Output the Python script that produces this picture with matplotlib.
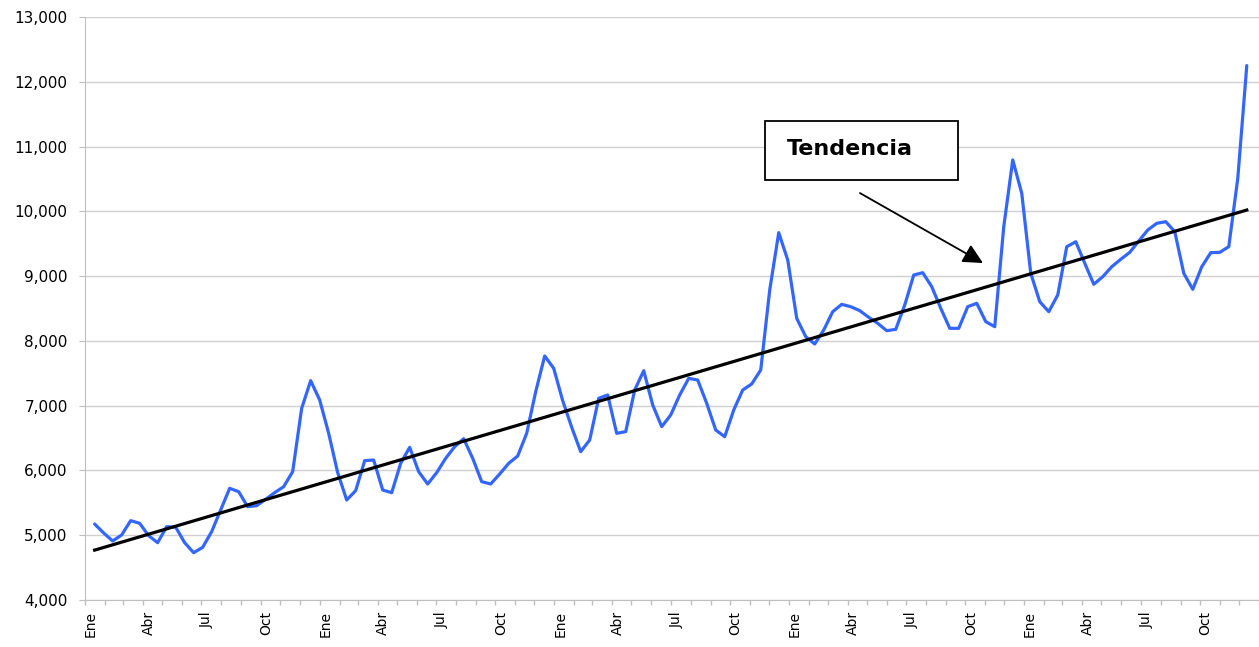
# Serie semanal con linea de tendencia

import numpy as np
import pandas as pd
import matplotlib
matplotlib.use('Agg')
import matplotlib.pyplot as plt
import matplotlib.dates as mdates
from matplotlib.patches import Rectangle
from matplotlib.ticker import FuncFormatter, FixedLocator

# datos (cada 14 dias)
start_date = '2005-01-16'
values = [
    5173, 5035, 4911, 5004, 5225, 5184, 4993, 4885, 5132, 5125,
    4885, 4730, 4813, 5055, 5390, 5724, 5672, 5441, 5456, 5555,
    5657, 5749, 5981, 6959, 7386, 7088, 6573, 5966, 5544, 5688,
    6151, 6161, 5698, 5657, 6110, 6357, 5981, 5791, 5966, 6187,
    6367, 6490, 6187, 5827, 5791, 5945, 6110, 6223, 6573, 7216,
    7767, 7577, 7077, 6666, 6290, 6470, 7114, 7165, 6573, 6599,
    7242, 7540, 7010, 6676, 6856, 7165, 7422, 7396, 7036, 6624,
    6521, 6933, 7242, 7335, 7551, 8786, 9671, 9249, 8348, 8065,
    7952, 8168, 8451, 8564, 8528, 8467, 8364, 8271, 8157, 8178,
    8554, 9017, 9053, 8837, 8503, 8194, 8194, 8528, 8580, 8297,
    8219, 9763, 10793, 10278, 9043, 8605, 8451, 8709, 9454, 9531,
    9198, 8874, 8991, 9145, 9260, 9367, 9542, 9712, 9815, 9840,
    9686, 9043, 8796, 9145, 9362, 9367, 9454, 10510, 12250,
]
trend_ends = [4770, 10020]   # valores de la recta de tendencia al inicio y al final
years = [2005, 2006, 2007, 2008, 2009]
month_labels = ['Ene', 'Abr', 'Jul', 'Oct']
y_ticks = [4000, 5000, 6000, 7000, 8000, 9000, 10000, 11000, 12000, 13000]

dates = pd.date_range(start_date, periods=len(values), freq='14D')
xnum = mdates.date2num(dates.to_pydatetime())

fig = plt.figure(figsize=(12.59, 6.47), dpi=100)
ax = fig.add_axes([85/1259, 1 - 600/647, 1 - 85/1259, (600 - 17)/647])

ax.plot(xnum, values, color='#3366ff', lw=2.3, zorder=3,
        solid_joinstyle='round', solid_capstyle='round')
ax.plot([xnum[0], xnum[-1]], trend_ends, color='black', lw=2.3, zorder=4)

ax.set_xlim(mdates.date2num(pd.Timestamp('2005-01-01')),
            mdates.date2num(pd.Timestamp('2010-01-01')))
ax.set_ylim(4000, 13000)

# etiquetas de meses
label_pos = [mdates.date2num(pd.Timestamp(y, m, 10)) for y in years for m in (1, 4, 7, 10)]
labels = [month_labels[i % 4] for i in range(len(label_pos))]
ax.xaxis.set_major_locator(FixedLocator(label_pos))
ax.set_xticklabels(labels, rotation=90, fontsize=10)
ax.xaxis.set_minor_locator(mdates.MonthLocator())
ax.tick_params(axis='x', which='major', length=0, pad=8)
ax.tick_params(axis='x', which='minor', length=3.5, color='#bfbfbf', width=1)

ax.set_yticks(y_ticks)
ax.yaxis.set_major_formatter(FuncFormatter(lambda v, p: '{:,.0f}'.format(v)))
ax.tick_params(axis='y', length=4.5, color='#bfbfbf', labelsize=11, pad=8)

ax.grid(axis='y', color='#d0d0d0', lw=1)
ax.set_axisbelow(True)
for s in ['top', 'right']:
    ax.spines[s].set_visible(False)
for s in ['left', 'bottom']:
    ax.spines[s].set_color('#bfbfbf')

# recuadro y flecha
ax.add_patch(Rectangle((0.579, 0.7204), 0.1644, 0.1012, transform=ax.transAxes,
                       facecolor='white', edgecolor='black', lw=1.3, zorder=5))
ax.text(0.598, 0.7736, 'Tendencia', transform=ax.transAxes, fontsize=16,
        fontweight='bold', va='center', ha='left', zorder=6)
ax.annotate('', xy=(0.7649, 0.578), xytext=(0.6601, 0.698),
            xycoords='axes fraction', textcoords='axes fraction',
            arrowprops=dict(arrowstyle='-|>,head_length=0.6,head_width=0.3',
                            mutation_scale=20, color='black', lw=1.3,
                            shrinkA=0, shrinkB=0), zorder=6)

fig.savefig('out.png', dpi=100)
